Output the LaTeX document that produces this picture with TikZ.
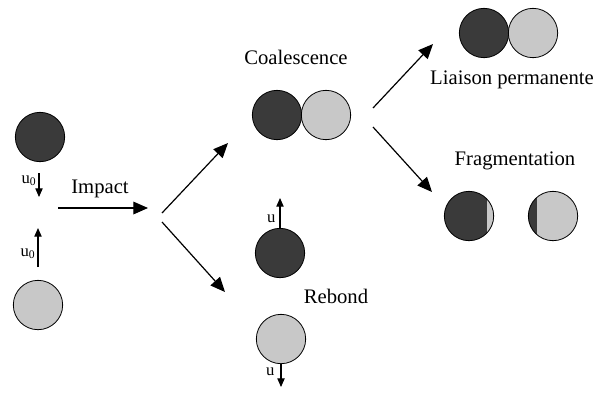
\documentclass[tikz,border=0pt]{standalone}
\usepackage{fontspec}
\setmainfont{Liberation Serif}
\usetikzlibrary{arrows.meta,positioning}
\definecolor{cDark}{RGB}{58,58,58}
\definecolor{cLight}{RGB}{200,200,200}
\tikzset{
	drop/.style={circle,draw=black,line width=0.6pt,minimum size=37pt,inner sep=0pt},
	darkdrop/.style={drop,fill=cDark},
	lightdrop/.style={drop,fill=cLight},
	lbl/.style={font=\fontsize{15.5}{17}\selectfont,inner sep=1pt},
	vlbl/.style={font=\fontsize{12.5}{13}\selectfont,inner sep=1pt},
	barr/.style={-{Triangle[length=11pt,width=9.5pt]},line width=0.9pt},
	varr/.style={-{Triangle[length=6.5pt,width=5.5pt]},line width=0.8pt},
}

\begin{document}
\begin{tikzpicture}[x=0.75pt,y=-0.75pt]
	\useasboundingbox (0,0) rectangle (605,394);
	% initial drops
	\node[darkdrop] (d1) at (40,137) {};
	\node[lightdrop] (d2) at (38,305) {};
	\coordinate (v1a) at (39,173);
	\coordinate (v1b) at (39,197);
	\coordinate (v2a) at (38,267);
	\coordinate (v2b) at (38,228);
	\draw[varr] (v1a) -- (v1b);
	\draw[varr] (v2a) -- (v2b);
	\node[vlbl,anchor=east] (u1) at (38,181) {u\textsubscript{0}};
	\node[vlbl,anchor=east] (u2) at (37,254) {u\textsubscript{0}};
	% impact
	\coordinate (i1) at (58,208);
	\coordinate (i2) at (148,208);
	\draw[barr] (i1) -- (i2);
	\node[lbl] (imp) at (100,189) {Impact};
	% first branching
	\coordinate (b1) at (162,213);
	\coordinate (b2) at (162,222);
	\coordinate (t1) at (228,143);
	\coordinate (t2) at (225,292);
	\draw[barr] (b1) -- (t1);
	\draw[barr] (b2) -- (t2);
	% coalescence
	\node[lbl] (coal) at (296,57) {Coalescence};
	\node[darkdrop] (c1) at (277,115) {};
	\node[lightdrop] (c2) at (326,115) {};
	% rebound
	\node[darkdrop] (r1) at (280,253) {};
	\node[lightdrop] (r2) at (281,339) {};
	\coordinate (ru1) at (280,198);
	\coordinate (ru2) at (281,387);
	\draw[varr] (r1.north) -- (ru1);
	\draw[varr] (r2.south) -- (ru2);
	\node[vlbl,anchor=east] (u3) at (277,219) {u};
	\node[vlbl,anchor=east] (u4) at (276,372) {u};
	\node[lbl] (reb) at (336,296) {Rebond};
	% second branching
	\coordinate (s1) at (373,108);
	\coordinate (s2) at (373,127);
	\coordinate (e1) at (433,44);
	\coordinate (e2) at (432,192);
	\draw[barr] (s1) -- (e1);
	\draw[barr] (s2) -- (e2);
	% permanent bond
	\node[darkdrop] (p1) at (484,33) {};
	\node[lightdrop] (p2) at (533,33) {};
	\node[lbl] (liai) at (512,80) {Liaison permanente};
	% fragmentation
	\node[lbl] (frag) at (515,161) {Fragmentation};
	\node[darkdrop,path picture={\fill[cLight] ([xshift=13.5pt]path picture bounding box.south) rectangle (path picture bounding box.north east);}] (f1) at (469,216) {};
	\node[lightdrop,path picture={\fill[cDark] (path picture bounding box.south west) rectangle ([xshift=-12pt]path picture bounding box.north);}] (f2) at (553,216) {};
\end{tikzpicture}
\end{document}
